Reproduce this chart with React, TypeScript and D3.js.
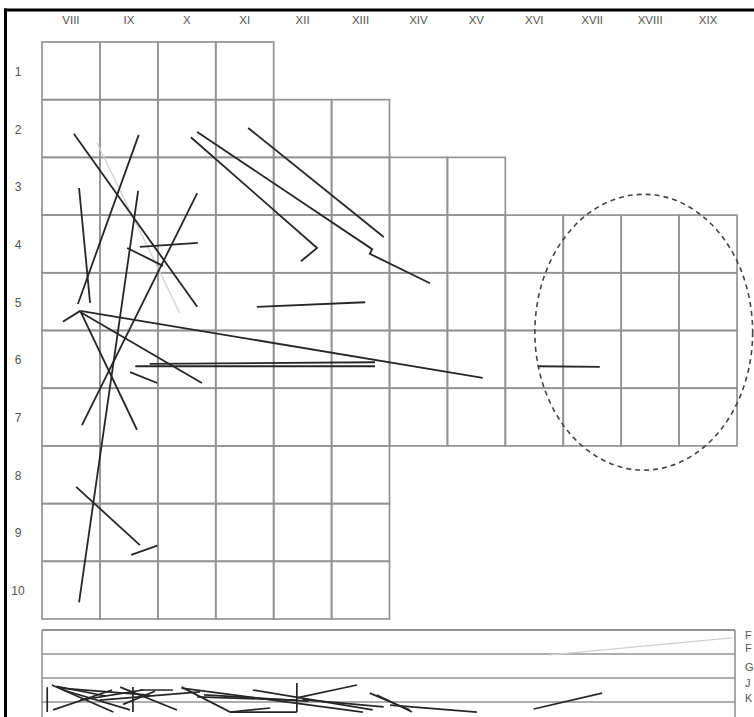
import React from "react";
import * as d3 from "d3";

const colLabels = ["VIII", "IX", "X", "XI", "XII", "XIII", "XIV", "XV", "XVI", "XVII", "XVIII", "XIX"];
const rowLabels = ["1", "2", "3", "4", "5", "6", "7", "8", "9", "10"];
// number of columns present in each row
const rowSpans = [4, 6, 8, 12, 12, 12, 12, 6, 6, 6];

// segments in grid units [col, row]
const segments: [number, number][][] = [
  [[0.55, 1.59], [2.68, 4.59]],
  [[1.67, 1.61], [0.62, 4.54]],
  [[0.64, 2.53], [0.83, 4.52]],
  [[1.66, 2.58], [0.64, 9.71]],
  [[2.68, 2.62], [0.69, 6.64]],
  [[1.69, 3.55], [2.69, 3.48]],
  [[1.47, 3.57], [2.09, 3.88]],
  [[0.36, 4.85], [0.66, 4.66]],
  [[0.66, 4.66], [7.61, 5.82]],
  [[0.66, 4.68], [2.76, 5.91]],
  [[0.67, 4.68], [1.64, 6.72]],
  [[1.61, 5.62], [5.75, 5.62]],
  [[1.86, 5.58], [5.75, 5.55]],
  [[1.52, 5.72], [1.99, 5.91]],
  [[0.59, 7.71], [1.69, 8.72]],
  [[1.54, 8.89], [1.99, 8.73]],
  [[2.57, 1.65], [4.75, 3.57], [4.47, 3.8]],
  [[2.68, 1.56], [5.7, 3.59], [5.66, 3.67], [6.7, 4.18]],
  [[3.56, 1.49], [5.9, 3.38]],
  [[3.71, 4.59], [5.58, 4.51]],
  [[8.56, 5.62], [9.63, 5.63]],
];
const faintSegments: [number, number][][] = [
  [[0.95, 1.75], [2.38, 4.7]],
];

// dashed ellipse [cx, cy, rx, ry] in grid units
const ellipse = [10.39, 5.03, 1.88, 2.39];

// lower band panel
const bandLabels = ["F", "F", "G", "J", "K"];
const bandLabelPos = [0.2, 0.75, 1.55, 2.2, 2.83];
const bandLines = [0, 1, 2, 3];
const bandSegments: [number, number][][] = [
  [[0.17, 2.29], [1.23, 3.42]],
  [[0.19, 3.33], [1.21, 2.5]],
  [[0.36, 2.5], [1.52, 3.33]],
  [[0.66, 2.92], [1.74, 2.5]],
  [[1.35, 2.38], [2.33, 3.33]],
  [[1.57, 2.38], [1.57, 3.42]],
  [[1.69, 2.5], [2.26, 2.5]],
  [[2.41, 2.38], [3.25, 3.42], [4.4, 3.42]],
  [[2.41, 2.42], [5.54, 3.42]],
  [[3.64, 2.5], [5.71, 3.33]],
  [[4.4, 2.83], [5.44, 2.29]],
  [[2.68, 2.79], [4.4, 2.92]],
  [[2.8, 2.7], [4.6, 2.96]],
  [[5.66, 2.63], [6.35, 3.33]],
  [[3.25, 3.42], [3.94, 3.25]],
  [[5.78, 2.71], [6.39, 3.42]],
  [[6.01, 3.13], [7.51, 3.42]],
  [[8.49, 3.29], [9.67, 2.63]],
  [[0.09, 2.38], [0.09, 3.42]],
  [[4.4, 2.21], [4.4, 3.42]],
  [[0.31, 2.42], [1.86, 2.71]],
  [[0.25, 2.35], [1.1, 2.75]],
  [[1.0, 2.92], [2.73, 2.58]],
  [[1.4, 3.1], [1.95, 2.55]],
  [[4.5, 2.9], [5.9, 3.2]],
];
const bandFaint: [number, number][][] = [
  [[8.77, 1.04], [11.91, 0.33]],
];

export default function App() {
  const W = 754, H = 717;
  const x = d3.scaleLinear().domain([0, 12]).range([42, 737]);
  const y = d3.scaleLinear().domain([0, 10]).range([42, 619]);
  const yb = d3.scaleLinear().domain([0, 4]).range([630, 726]);
  const line = d3.line<[number, number]>().x((d) => x(d[0])).y((d) => y(d[1]));
  const lineB = d3.line<[number, number]>().x((d) => x(d[0])).y((d) => yb(d[1]));
  const gridColor = "#939393";
  const cells: { c: number; r: number }[] = [];
  rowSpans.forEach((n, r) => {
    for (let c = 0; c < n; c++) cells.push({ c, r });
  });
  return (
    <svg width={W} height={H} style={{ position: "absolute", left: 0, top: 0, background: "#fff" }}
      fontFamily="'Liberation Sans', Arial, sans-serif">
      <rect x={0} y={0} width={W} height={H} fill="#fff" />
      {/* column labels */}
      {colLabels.map((l, i) => (
        <text key={l} x={x(i + 0.5)} y={24} textAnchor="middle" fontSize={11.5} fill="#555">{l}</text>
      ))}
      {rowLabels.map((l, i) => (
        <text key={l} x={18} y={y(i + 0.5) + 5} textAnchor="middle" fontSize={12} fill="#555">{l}</text>
      ))}
      {/* grid cells */}
      {cells.map(({ c, r }) => (
        <rect key={`${c}-${r}`} x={x(c)} y={y(r)} width={x(c + 1) - x(c)} height={y(r + 1) - y(r)}
          fill="none" stroke={gridColor} strokeWidth={1.7} />
      ))}
      {faintSegments.map((s, i) => (
        <path key={`f${i}`} d={line(s) || ""} fill="none" stroke="#d4d4d4" strokeWidth={1.4} />
      ))}
      {segments.map((s, i) => (
        <path key={`s${i}`} d={line(s) || ""} fill="none" stroke="#262626" strokeWidth={1.8} />
      ))}
      <ellipse cx={x(ellipse[0])} cy={y(ellipse[1])} rx={x(ellipse[2]) - x(0)} ry={y(ellipse[3]) - y(0)}
        fill="none" stroke="#444" strokeWidth={1.6} strokeDasharray="5,4" />
      {/* lower band panel */}
      {bandLines.map((b) => (
        <line key={`b${b}`} x1={x(0)} x2={x(12) - 2} y1={yb(b)} y2={yb(b)} stroke={gridColor} strokeWidth={b === 0 ? 2 : 1.6} />
      ))}
      <line x1={x(0)} x2={x(0)} y1={yb(0)} y2={H} stroke={gridColor} strokeWidth={1.6} />
      <line x1={x(12) - 2} x2={x(12) - 2} y1={yb(0)} y2={H} stroke={gridColor} strokeWidth={1.6} />
      {bandFaint.map((s, i) => (
        <path key={`bf${i}`} d={lineB(s) || ""} fill="none" stroke="#d0d0d0" strokeWidth={1.2} />
      ))}
      {bandSegments.map((s, i) => (
        <path key={`bs${i}`} d={lineB(s) || ""} fill="none" stroke="#262626" strokeWidth={1.7} />
      ))}
      {bandLabels.map((l, i) => (
        <text key={`bl${i}`} x={745} y={yb(bandLabelPos[i]) + 4} fontSize={11} fill="#555">{l}</text>
      ))}
      {/* frame */}
      <line x1={4} x2={W} y1={10} y2={10} stroke="#000" strokeWidth={3} />
      <line x1={5.5} x2={5.5} y1={8.5} y2={H} stroke="#000" strokeWidth={3} />
    </svg>
  );
}
